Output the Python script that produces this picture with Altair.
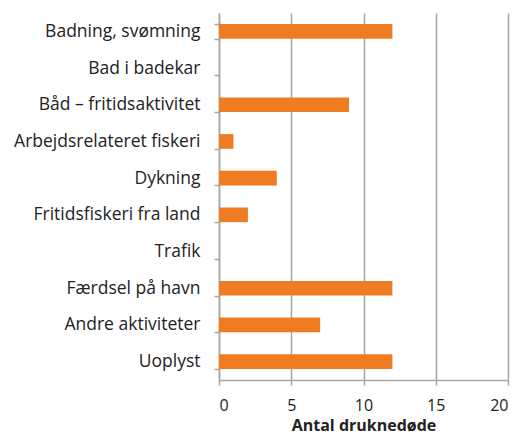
import altair as alt
import pandas as pd

categories = ["Badning, svømning", "Bad i badekar", "Båd – fritidsaktivitet",
              "Arbejdsrelateret fiskeri", "Dykning", "Fritidsfiskeri fra land",
              "Trafik", "Færdsel på havn", "Andre aktiviteter", "Uoplyst"]
values = [12, 0, 9, 1, 4, 2, 0, 12, 7, 12]

df = pd.DataFrame({"cat": categories, "val": values})

FONT = "Open Sans"
GRAY = "#A6A6A6"

chart = alt.Chart(df).mark_bar(color="#EF7C22").encode(
    x=alt.X("val:Q", scale=alt.Scale(domain=[0, 20], nice=False),
            axis=alt.Axis(values=[0, 5, 10, 15, 20], title="Antal druknedøde",
                          titleFont=FONT, titleFontSize=16, titleFontWeight="bold",
                          titleColor="#222222", titlePadding=4,
                          labelFont=FONT, labelFontSize=16, labelColor="#222222",
                          labelPadding=12,
                          grid=True, gridColor=GRAY, gridWidth=1.5,
                          domainColor=GRAY, domainWidth=1.5,
                          tickColor=GRAY, tickWidth=1.5, tickSize=5)),
    y=alt.Y("cat:N", sort=categories,
            scale=alt.Scale(paddingInner=0.6, paddingOuter=0.3),
            axis=alt.Axis(title=None, tickBand="extent", grid=False,
                          labelFont=FONT, labelFontSize=17.5, labelColor="#222222",
                          labelPadding=14, labelLimit=300,
                          domainColor=GRAY, domainWidth=1.5,
                          tickColor=GRAY, tickWidth=1.5, tickSize=5)),
).properties(
    width=289, height=367,
    autosize=alt.AutoSizeParams(type="none"),
    padding={"left": 211, "top": 5, "right": 4, "bottom": 57},
).configure_view(stroke=None)

chart.save("out.html", embed_options={"renderer": "svg", "actions": False})
